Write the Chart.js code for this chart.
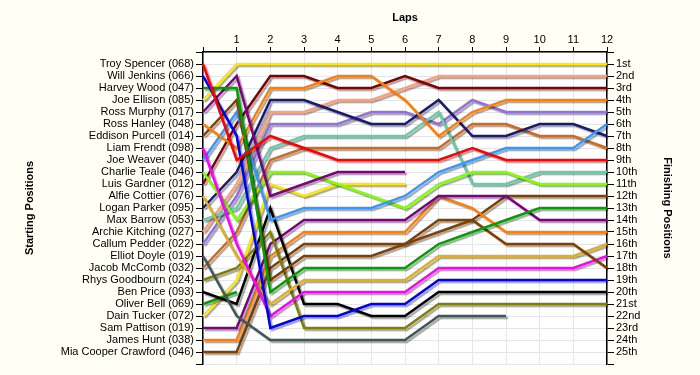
<!DOCTYPE html>
<html>
<head>
<meta charset="utf-8">
<script src="https://cdn.jsdelivr.net/npm/chart.js@4.4.1/dist/chart.umd.min.js"></script>
<style>
  html, body { margin: 0; padding: 0; background: #fffff5; }
  #wrap { width: 700px; height: 375px; }
</style>
</head>
<body>
<div id="wrap"><canvas id="lapChart" width="700" height="375"></canvas></div>
<script>
const laps = [0, 1, 2, 3, 4, 5, 6, 7, 8, 9, 10, 11, 12];

// drivers in starting order
const drivers = [
  'Troy Spencer (068)', 'Will Jenkins (066)', 'Harvey Wood (047)', 'Joe Ellison (085)',
  'Ross Murphy (017)', 'Ross Hanley (048)', 'Eddison Purcell (014)', 'Liam Frendt (098)',
  'Joe Weaver (040)', 'Charlie Teale (046)', 'Luis Gardner (012)', 'Alfie Cottier (076)',
  'Logan Parker (095)', 'Max Barrow (053)', 'Archie Kitching (027)', 'Callum Pedder (022)',
  'Elliot Doyle (019)', 'Jacob McComb (032)', 'Rhys Goodbourn (024)', 'Ben Price (093)',
  'Oliver Bell (069)', 'Dain Tucker (072)', 'Sam Pattison (019)', 'James Hunt (038)',
  'Mia Cooper Crawford (046)'
];

const finishLabels = [
  '1st', '2nd', '3rd', '4th', '5th', '6th', '7th', '8th', '9th', '10th',
  '11th', '12th', '13th', '14th', '15th', '16th', '17th', '18th', '19th', '20th',
  '21st', '22nd', '23rd', '24th', '25th'
];

// race position at the end of each lap (lap 0 = grid), shorter arrays = retired
const troySpencer    = [1, 9, 7, 8, 9, 9, 9, 9, 8, 9, 9, 9, 9];
const willJenkins    = [2, 7, 23, 22, 22, 21, 21, 19, 19, 19, 19, 19, 19];
const harveyWood     = [3, 3, 20, 18, 18, 18, 18, 16, 15, 14, 13, 13, 13];
const joeEllison     = [4, 1, 1, 1, 1, 1, 1, 1, 1, 1, 1, 1, 1];
const rossMurphy     = [5, 2, 12, 11, 10, 10, 10];
const rossHanley     = [6, 8, 3, 3, 2, 2, 4, 7, 5, 4, 4, 4, 4];
const eddisonPurcell = [7, 4, 19, 17, 17, 17, 16, 15, 14, 16, 16, 16, 18];
const liamFrendt     = [8, 16, 22, 20, 20, 20, 20, 18, 18, 18, 18, 18, 17];
const joeWeaver      = [9, 5, 14, 13, 13, 13, 12, 10, 9, 8, 8, 8, 6];
const charlieTeale   = [10, 14, 10, 10, 11, 12, 13, 11, 10, 10, 11, 11, 11];
const luisGardner    = [11, 6, 2, 2, 3, 3, 2, 3, 3, 3, 3, 3, 3];
const alfieCottier   = [12, 17, 21, 19, 19, 19, 19, 17, 17, 17, 17, 17, 16];
const loganParker    = [13, 10, 4, 4, 5, 6, 6, 4, 7, 7, 6, 6, 7];
const maxBarrow      = [14, 13, 8, 7, 7, 7, 7, 5, 11, 11, 10, 10, 10];
const archieKitching = [15, 11, 5, 5, 4, 4, 3, 2, 2, 2, 2, 2, 2];
const callumPedder   = [16, 12, 6, 6, 6, 5, 5, 6, 4, 5, 5, 5, 5];
const elliotDoyle    = [17, 22, 24, 24, 24, 24, 24, 22, 22, 22];
const jacobMcComb    = [18, 15, 9, 8, 8, 8, 8, 8, 6, 6, 7, 7, 8];
const rhysGoodbourn  = [19, 18, 15, 23, 23, 23, 23, 21, 21, 21, 21, 21, 21];
const benPrice       = [20, 21, 13, 21, 21, 22, 22, 20, 20, 20, 20, 20, 20];
const oliverBell     = [21, 20];
const dainTucker     = [22, 19, 11, 12, 11, 11, 11];
const samPattison    = [23, 23, 16, 14, 14, 14, 14, 12, 12, 12, 14, 14, 14];
const jamesHunt      = [24, 24, 17, 15, 15, 15, 15, 12, 13, 15, 15, 15, 15];
const miaCooper      = [25, 25, 18, 16, 16, 16, 16, 14, 14, 12, 12, 12, 12];

const lapPositions = [
  troySpencer, willJenkins, harveyWood, joeEllison, rossMurphy, rossHanley,
  eddisonPurcell, liamFrendt, joeWeaver, charlieTeale, luisGardner, alfieCottier,
  loganParker, maxBarrow, archieKitching, callumPedder, elliotDoyle, jacobMcComb,
  rhysGoodbourn, benPrice, oliverBell, dainTucker, samPattison, jamesHunt, miaCooper
];

const lineColours = [
  '#ff0000', '#0000f0', '#00a000', '#ffe600', '#800080', '#ff8000', '#804000',
  '#ff00ff', '#3399ff', '#80ff00', '#800000', '#e0b020', '#1a1a6e', '#66cdaa',
  '#ffa07a', '#9370db', '#3e5858', '#d2691e', '#808000', '#000000',
  '#00a000', '#ffe600', '#800080', '#ff8000', '#804000'
];

// grid slots 0..26, only 1..25 get a label
const slots = [];
for (let i = 0; i <= drivers.length + 1; i++) slots.push(i);

const backdrop = {
  id: 'backdrop',
  beforeDraw(chart) {
    const {ctx, chartArea: a} = chart;
    ctx.save();
    ctx.fillStyle = '#fffff5';
    ctx.fillRect(0, 0, chart.width, chart.height);
    ctx.fillStyle = '#ffffff';
    ctx.fillRect(a.left, a.top, a.right - a.left, a.bottom - a.top);
    ctx.restore();
  }
};

// grey drop shadow under every line
const lineShadow = {
  id: 'lineShadow',
  beforeDatasetDraw(chart) {
    const ctx = chart.ctx;
    ctx.save();
    ctx.shadowColor = 'rgba(0,0,0,0.35)';
    ctx.shadowOffsetX = 2;
    ctx.shadowOffsetY = 2;
    ctx.shadowBlur = 1;
  },
  afterDatasetDraw(chart) {
    chart.ctx.restore();
  }
};

Chart.defaults.font.family = "'Liberation Sans', Arial, sans-serif";
Chart.defaults.color = '#000';

const axisTitle = (text, pad) => ({
  display: true,
  text: text,
  color: '#000',
  font: { size: 11, weight: 'bold' },
  padding: { top: pad, bottom: 0 }
});

new Chart(document.getElementById('lapChart'), {
  type: 'line',
  data: {
    labels: laps,
    datasets: lapPositions.map((pos, i) => ({
      label: drivers[i],
      data: pos,
      borderColor: lineColours[i],
      borderWidth: 2.5,
      pointRadius: 0,
      tension: 0,
      fill: false,
      yAxisID: 'y'
    }))
  },
  options: {
    responsive: false,
    animation: false,
    devicePixelRatio: 1,
    layout: { padding: { left: 0, right: 0, top: 0, bottom: 11 } },
    plugins: {
      legend: { display: false },
      tooltip: { enabled: false }
    },
    scales: {
      x: {
        type: 'category',
        position: 'top',
        offset: false,
        afterFit(s) { s.height = 52; },
        grid: { color: '#e6e6e6', tickColor: '#000', tickLength: 5 },
        border: { color: '#000', width: 1.5 },
        ticks: {
          font: { size: 11 },
          padding: 0,
          maxRotation: 0,
          autoSkip: false,
          callback: (v, i) => (laps[i] === 0 ? '' : laps[i])
        },
        title: axisTitle('Laps', 11)
      },
      y: {
        position: 'left',
        reverse: true,
        min: 0,
        max: 26,
        afterFit(s) { s.width = 203; },
        afterBuildTicks(s) { s.ticks = slots.map(v => ({ value: v })); },
        grid: { color: '#e6e6e6', tickColor: '#000', tickLength: 7 },
        border: { color: '#000', width: 1.5 },
        ticks: {
          font: { size: 11 },
          padding: 2,
          autoSkip: false,
          callback: v => drivers[v - 1] || ''
        },
        title: axisTitle('Starting Positions', 23)
      },
      y2: {
        position: 'right',
        reverse: true,
        min: 0,
        max: 26,
        afterFit(s) { s.width = 93; },
        afterBuildTicks(s) { s.ticks = slots.map(v => ({ value: v })); },
        grid: { drawOnChartArea: false, tickColor: '#000', tickLength: 7 },
        border: { color: '#000', width: 1.5 },
        ticks: {
          font: { size: 11 },
          padding: 2,
          autoSkip: false,
          callback: v => finishLabels[v - 1] || ''
        },
        title: axisTitle('Finishing Positions', 26)
      }
    }
  },
  plugins: [backdrop, lineShadow]
});
</script>
</body>
</html>
